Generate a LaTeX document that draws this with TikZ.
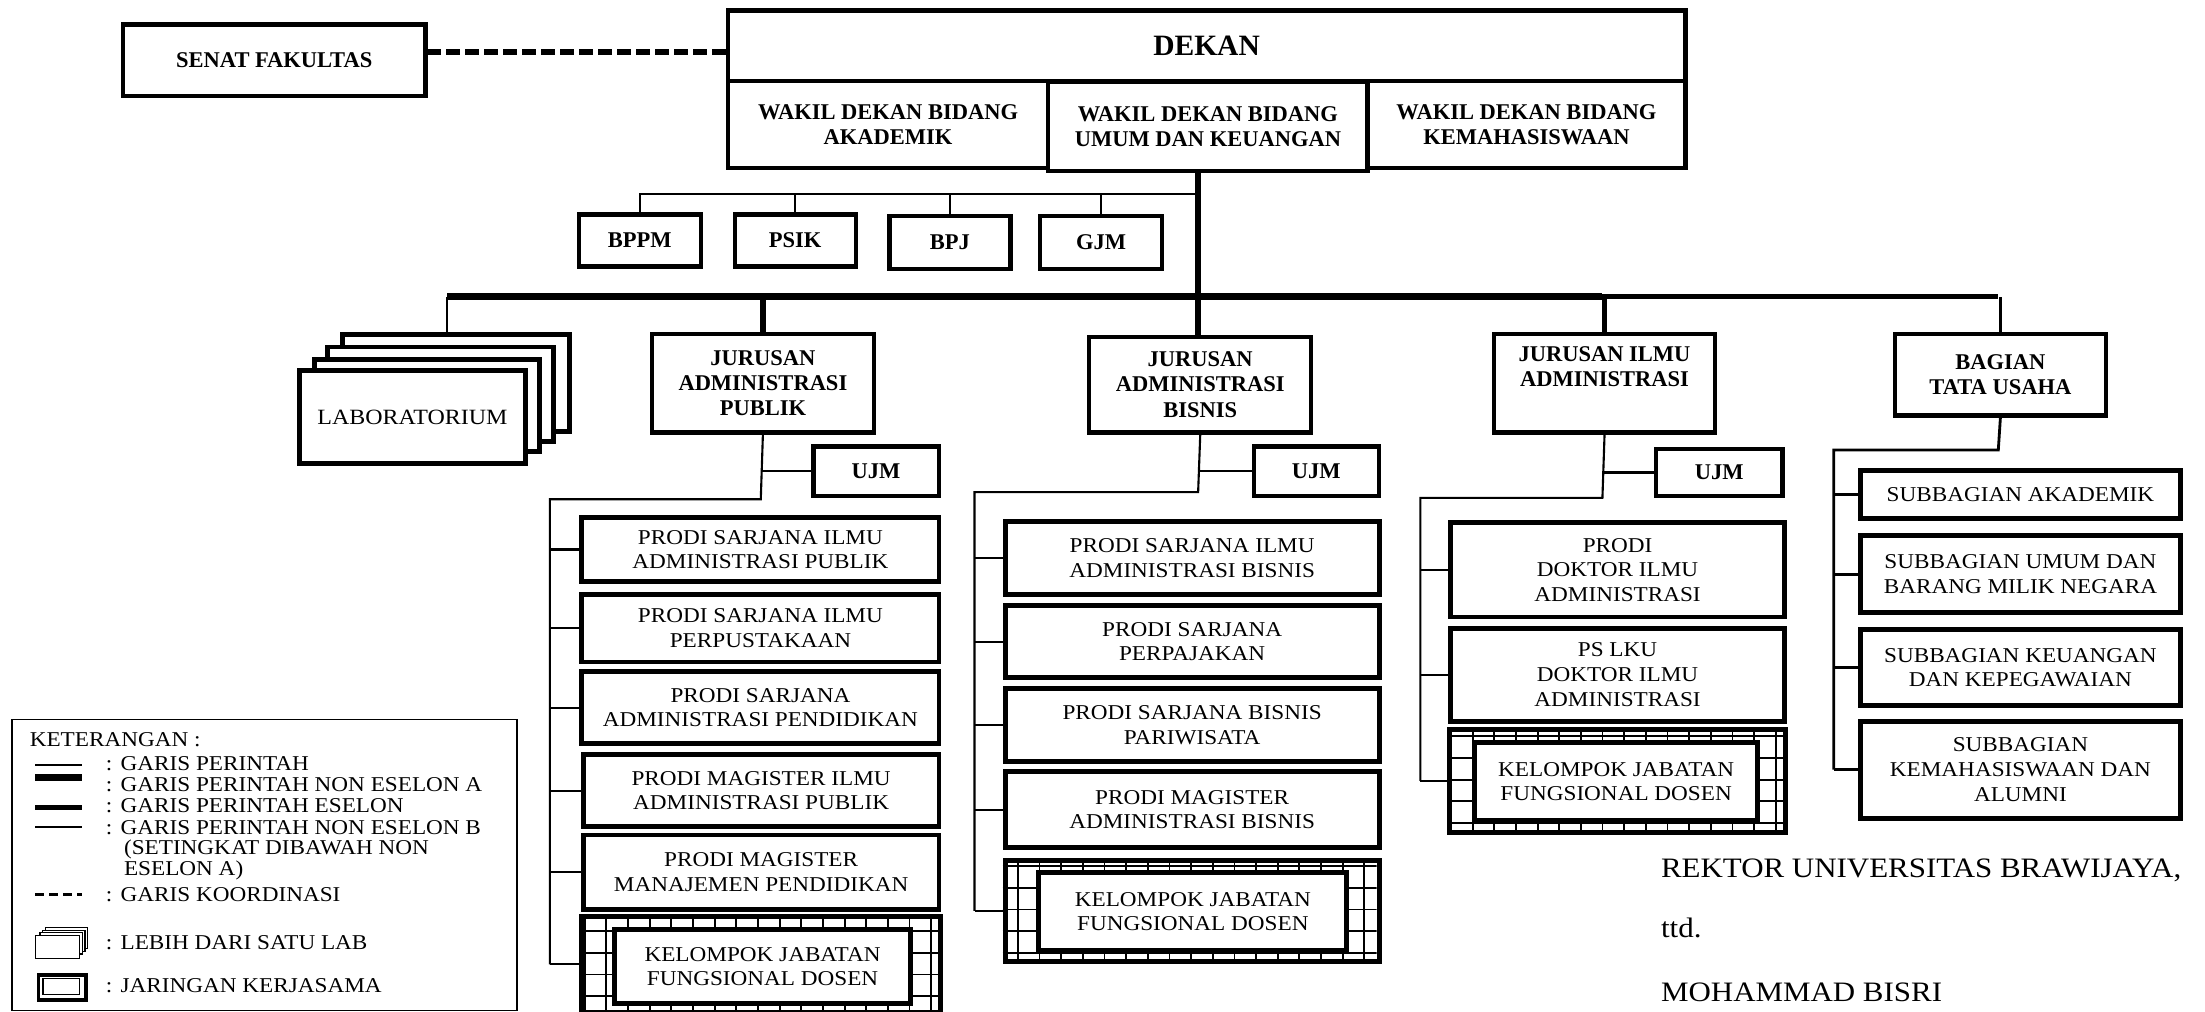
\documentclass[tikz,border=0pt]{standalone}
\usepackage{fontspec}
\setmainfont{Liberation Serif}
\newfontfamily\wide{Liberation Serif}[FakeStretch=1.1]
\tikzset{
  hb/.style={draw, line width=3pt, fill=white, anchor=north west, inner sep=0pt, align=center, font=\fontsize{16}{18}\selectfont\bfseries},
  pb/.style={draw, line width=3.5pt, fill=white, anchor=north west, inner sep=0pt, align=center, font=\wide\fontsize{15}{17.5}\selectfont},
  labbox/.style={draw, line width=3.5pt, fill=white, anchor=north west, inner sep=0pt, font=\wide\fontsize{15.5}{17}\selectfont},
  kout/.style={draw, line width=3.5pt, anchor=north west, inner sep=0pt},
  kin/.style={draw, line width=3.5pt, fill=white, anchor=north west, inner sep=0pt, align=center, font=\wide\fontsize{15}{17}\selectfont},
  gridln/.style={line width=1.3pt},
  thinln/.style={line width=1.5pt},
  tuln/.style={line width=2pt},
  legtxt/.style={anchor=west, inner sep=0pt, font=\wide\fontsize{15}{15}\selectfont},
  sigtxt/.style={anchor=west, inner sep=0pt, font=\wide\fontsize{20}{22}\selectfont},
  coordln/.style={line width=4pt, dash pattern=on 9.5pt off 4pt},
}
\begin{document}
\begin{tikzpicture}[x=1pt,y=-1pt]
\useasboundingbox[fill=white] (0,0) rectangle (1568,719);

% ---------- top level ----------
\node[hb, minimum width=215pt, minimum height=51pt] (senat) at (86,16) {SENAT FAKULTAS};
\node[hb, minimum width=681pt, minimum height=50pt, font=\fontsize{21}{22}\selectfont\bfseries] (dekan) at (516,6) {DEKAN};
\node[hb, minimum width=228pt, minimum height=62pt] (wak1) at (516,56) {WAKIL DEKAN BIDANG\\AKADEMIK};
\node[hb, minimum width=226pt, minimum height=62pt] (wak3) at (971,56) {WAKIL DEKAN BIDANG\\KEMAHASISWAAN};
\node[hb, minimum width=227pt, minimum height=63pt] (wak2) at (744,57) {WAKIL DEKAN BIDANG\\UMUM DAN KEUANGAN};

\coordinate (dl) at (301,37);
\draw[coordln] (senat.east |- dl) -- (dekan.west |- dl);

% ---------- staff units ----------
\node[hb, minimum width=87pt, minimum height=37pt] (bppm) at (410,151) {BPPM};
\node[hb, minimum width=86pt, minimum height=37pt] (psik) at (521,151) {PSIK};
\node[hb, minimum width=86pt, minimum height=38pt] (bpj) at (631,152) {BPJ};
\node[hb, minimum width=87pt, minimum height=38pt] (gjm) at (738,152) {GJM};

% ---------- jurusan row ----------
\node[labbox, minimum width=161pt, minimum height=69pt] (lab4) at (242,236) {};
\node[labbox, minimum width=161pt, minimum height=67pt] (lab3) at (231,245) {};
\node[labbox, minimum width=160pt, minimum height=65pt] (lab2) at (222,254) {};
\node[labbox, minimum width=161pt, minimum height=66pt] (lab1) at (211,262) {LABORATORIUM};

\node[hb, minimum width=158pt, minimum height=70pt] (ap) at (462,236) {JURUSAN\\ADMINISTRASI\\PUBLIK};
\node[hb, minimum width=158pt, minimum height=68pt] (ab) at (773,238) {JURUSAN\\ADMINISTRASI\\BISNIS};
\node[hb, minimum width=157pt, minimum height=70pt] (ia) at (1061,236) {JURUSAN ILMU\\ADMINISTRASI\\\strut};
\node[hb, minimum width=150pt, minimum height=58pt] (tu) at (1346,236) {BAGIAN\\TATA USAHA};

\node[hb, minimum width=89pt, minimum height=35pt] (ujmap) at (577,316) {UJM};
\node[hb, minimum width=89pt, minimum height=35pt] (ujmab) at (890,316) {UJM};
\node[hb, minimum width=90pt, minimum height=33pt] (ujmia) at (1176,318) {UJM};

% ---------- AP prodi ----------
\node[pb, minimum width=254pt, minimum height=46pt] (ap1) at (412,366) {PRODI SARJANA ILMU\\ADMINISTRASI PUBLIK};
\node[pb, minimum width=254pt, minimum height=48pt] (ap2) at (412,421) {PRODI SARJANA ILMU\\PERPUSTAKAAN};
\node[pb, minimum width=254pt, minimum height=51pt] (ap3) at (412,476) {PRODI SARJANA\\ADMINISTRASI PENDIDIKAN};
\node[pb, minimum width=253pt, minimum height=51pt] (ap4) at (413,535) {PRODI MAGISTER ILMU\\ADMINISTRASI PUBLIK};
\node[pb, minimum width=253pt, minimum height=53pt] (ap5) at (413,592) {PRODI MAGISTER\\MANAJEMEN PENDIDIKAN};

\coordinate (kapA) at (412,650); \coordinate (kapB) at (667,718);
\begin{scope}
  \clip (kapA) rectangle (kapB);
  \draw[gridln, step=15.4pt] (kapA |- kapB) grid (kapB |- kapA);
\end{scope}
\node[kout, minimum width=255pt, minimum height=68pt] (kap) at (kapA) {};
\node[kin, minimum width=211pt, minimum height=53pt] (kapi) at (435,659) {KELOMPOK JABATAN\\FUNGSIONAL DOSEN};

% ---------- AB prodi ----------
\node[pb, minimum width=266pt, minimum height=52pt] (ab1) at (713,369) {PRODI SARJANA ILMU\\ADMINISTRASI BISNIS};
\node[pb, minimum width=266pt, minimum height=51pt] (ab2) at (713,429) {PRODI SARJANA\\PERPAJAKAN};
\node[pb, minimum width=266pt, minimum height=52pt] (ab3) at (713,488) {PRODI SARJANA BISNIS\\PARIWISATA};
\node[pb, minimum width=266pt, minimum height=54pt] (ab4) at (713,547) {PRODI MAGISTER\\ADMINISTRASI BISNIS};

\coordinate (kabA) at (713,610); \coordinate (kabB) at (979,682);
\begin{scope}
  \clip (kabA) rectangle (kabB);
  \draw[gridln, step=15.4pt] (kabA |- kabB) grid (kabB |- kabA);
\end{scope}
\node[kout, minimum width=266pt, minimum height=72pt] (kab) at (kabA) {};
\node[kin, minimum width=219pt, minimum height=55pt] (kabi) at (737,619) {KELOMPOK JABATAN\\FUNGSIONAL DOSEN};

% ---------- IA prodi ----------
\node[pb, minimum width=237pt, minimum height=67pt] (ia1) at (1030,370) {PRODI\\DOKTOR ILMU\\ADMINISTRASI};
\node[pb, minimum width=237pt, minimum height=66pt] (ia2) at (1030,445) {PS LKU\\DOKTOR ILMU\\ADMINISTRASI};

\coordinate (kiaA) at (1029,517); \coordinate (kiaB) at (1268,590);
\begin{scope}
  \clip (kiaA) rectangle (kiaB);
  \draw[gridln, step=15.4pt] (kiaA |- kiaB) grid (kiaB |- kiaA);
\end{scope}
\node[kout, minimum width=239pt, minimum height=73pt] (kia) at (kiaA) {};
\node[kin, minimum width=201pt, minimum height=56pt] (kiai) at (1047,526) {KELOMPOK JABATAN\\FUNGSIONAL DOSEN};

% ---------- TU subbagian ----------
\node[pb, minimum width=228pt, minimum height=34pt] (tu1) at (1321,333) {SUBBAGIAN AKADEMIK};
\node[pb, minimum width=228pt, minimum height=55pt] (tu2) at (1321,379) {SUBBAGIAN UMUM DAN\\BARANG MILIK NEGARA};
\node[pb, minimum width=228pt, minimum height=54pt] (tu3) at (1321,446) {SUBBAGIAN KEUANGAN\\DAN KEPEGAWAIAN};
\node[pb, minimum width=228pt, minimum height=69pt] (tu4) at (1321,511) {SUBBAGIAN\\KEMAHASISWAAN DAN\\ALUMNI};

% ---------- connectors ----------
\coordinate (jt) at (852,138);
\coordinate (busL) at (318,211);
\coordinate (busM) at (1139.5,211);
\coordinate (busR) at (1421,211);
\coordinate (jm) at (852,211);

\draw[line width=4.5pt] (wak2.south -| jm) -- (ab.north -| jm);
\foreach \n in {bppm,psik,bpj,gjm} \draw[thinln] (\n.north) |- (jt);
\draw[line width=5pt] (busL) -- (busM);
\draw[line width=3.5pt] (busM) -- (busR);
\draw[thinln] (busL) -- (busL |- lab4.north);
\draw[line width=4.5pt] (ap.north) -- (ap.north |- busL);
\draw[line width=3.5pt] (ia.north) -- (ia.north |- busL);
\draw[line width=2.5pt] (tu.north) -- (tu.north |- busL);

% AP
\coordinate (apj) at (541,355); \coordinate (apl) at (391,355);
\draw[thinln] (ap.south) -- (apj) -- (apl) -- (apl |- kap.west);
\draw[thinln] (ujmap.west) -- (ujmap.west -| apj);
\foreach \n in {ap1,ap2,ap3,ap4,ap5,kap} \draw[thinln] (\n.west) -- (\n.west -| apl);

% AB
\coordinate (abj) at (852,350); \coordinate (abl) at (693,350);
\draw[thinln] (ab.south) -- (abj) -- (abl) -- (abl |- kab.west);
\draw[thinln] (ujmab.west) -- (ujmab.west -| abj);
\foreach \n in {ab1,ab2,ab3,ab4,kab} \draw[thinln] (\n.west) -- (\n.west -| abl);

% IA
\coordinate (iaj) at (1139.5,354); \coordinate (ial) at (1010,354);
\draw[thinln] (ia.south) -- (iaj) -- (ial) -- (ial |- kia.west);
\draw[thinln] (ujmia.west) -- (ujmia.west -| iaj);
\foreach \n in {ia1,ia2,kia} \draw[thinln] (\n.west) -- (\n.west -| ial);

% TU
\coordinate (tuj) at (1421,320); \coordinate (tul) at (1304,320);
\draw[tuln] (tu.south) -- (tuj) -- (tul) -- (tul |- tu4.west);
\foreach \n in {tu1,tu2,tu3,tu4} \draw[tuln] (\n.west) -- (\n.west -| tul);

% ---------- legend ----------
\node[draw, line width=1.2pt, anchor=north west, minimum width=359pt, minimum height=207pt, inner sep=0pt] (leg) at (8,511) {};
\node[legtxt] (lk) at (21,526) {KETERANGAN :};
\coordinate (s1) at (25,544); \draw[line width=2pt] (s1) -- ++(33,0);
\coordinate (s2) at (25,553); \draw[line width=5pt] (s2) -- ++(33,0);
\coordinate (s3) at (25,574); \draw[line width=3.5pt] (s3) -- ++(33,0);
\coordinate (s4) at (25,588); \draw[line width=1.8pt] (s4) -- ++(33,0);
\coordinate (s5) at (25,636); \draw[line width=1.6pt, dash pattern=on 6pt off 4pt] (s5) -- ++(33,0);
\node[legtxt] (lt1) at (75,543) {:\hspace{6pt}GARIS PERINTAH};
\node[legtxt] (lt2) at (75,558) {:\hspace{6pt}GARIS PERINTAH NON ESELON A};
\node[legtxt] (lt3) at (75,573) {:\hspace{6pt}GARIS PERINTAH ESELON};
\node[legtxt] (lt4) at (75,588.5) {:\hspace{6pt}GARIS PERINTAH NON ESELON B};
\node[legtxt] (lt5) at (88,604) {(SETINGKAT DIBAWAH NON};
\node[legtxt] (lt6) at (88,619) {ESELON A)};
\node[legtxt] (lt7) at (75,636.5) {:\hspace{6pt}GARIS KOORDINASI};
\node[legtxt] (lt8) at (75,670) {:\hspace{6pt}LEBIH DARI SATU LAB};
\node[legtxt] (lt9) at (75,701) {:\hspace{6pt}JARINGAN KERJASAMA};

\node[draw, line width=0.8pt, fill=white, anchor=north west, minimum width=30pt, minimum height=15pt, inner sep=0pt] (ic3) at (32,659) {};
\node[draw, line width=0.8pt, fill=white, anchor=north west, minimum width=30pt, minimum height=15pt, inner sep=0pt] (ic2) at (30,661) {};
\node[draw, line width=0.8pt, fill=white, anchor=north west, minimum width=30pt, minimum height=15pt, inner sep=0pt] (ic1) at (28,663) {};
\node[draw, line width=0.8pt, fill=white, anchor=north west, minimum width=31pt, minimum height=16pt, inner sep=0pt] (ic0) at (25,665) {};
\node[draw, line width=2.5pt, anchor=north west, minimum width=34pt, minimum height=18pt, inner sep=0pt] (dbo) at (26,692) {};
\node[draw, line width=1pt, anchor=north west, minimum width=26pt, minimum height=11pt, inner sep=0pt] (dbi) at (30,695.5) {};

% ---------- signature ----------
\node[sigtxt] (rek) at (1181,619) {REKTOR UNIVERSITAS BRAWIJAYA,};
\node[sigtxt] (ttd) at (1181,660) {ttd.};
\node[sigtxt] (bisri) at (1181,706) {MOHAMMAD BISRI};
\end{tikzpicture}
\end{document}
